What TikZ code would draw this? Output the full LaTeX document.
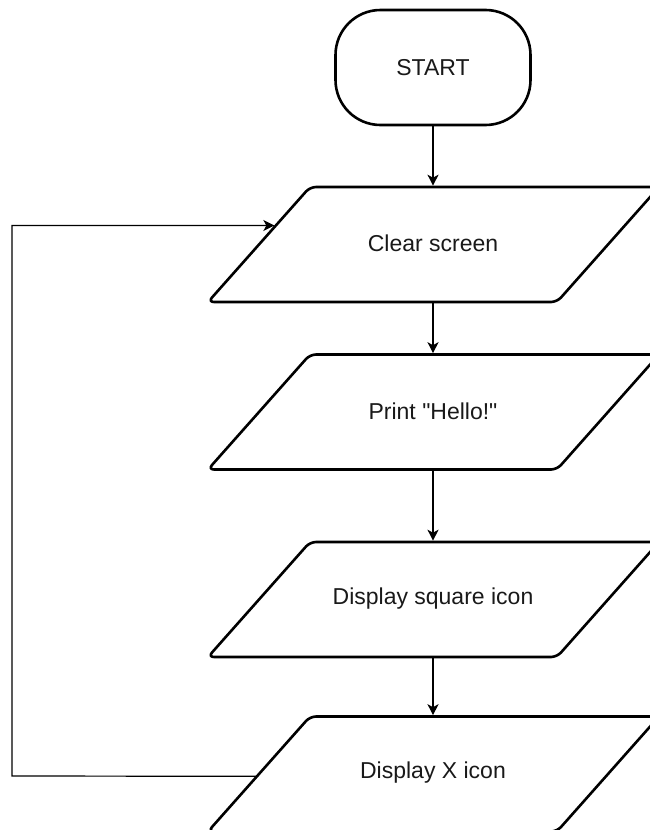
\documentclass[tikz,border=0pt]{standalone}
\usepackage{fontspec}
\setmainfont{Liberation Sans}[Ligatures=TeXOff]
\usetikzlibrary{arrows.meta,calc}
\begin{document}
\begin{tikzpicture}[x=1pt,y=-1pt,
  lbl/.style={font=\fontsize{23}{27}\selectfont, text=black!90},
  startbox/.style={lbl, draw, line width=2.6pt, rectangle, rounded corners=45pt,
    minimum width=195pt, minimum height=115pt, inner sep=0pt},
  ioline/.style={line width=2.6pt, rounded corners=6pt},
  conn/.style={line width=1.2pt, -{Stealth[length=11pt,width=11pt,inset=3pt]}}
]
\useasboundingbox (0,0) rectangle (649,830);
\node[startbox] (start) at (433,67.5) {START};
% parallelogram boxes: text node + outline + named edge points
\foreach \nm/\cy/\tx in {b1/244.5/Clear screen, b2/412/Print "Hello!", b3/599.5/Display square icon, b4/774/Display X icon}{
  \node[lbl] (\nm) at (433,\cy-1) {\tx};
  \draw[ioline] (208,\cy+57.5) -- (310,\cy-57.5) -- (659,\cy-57.5) -- (557,\cy+57.5) -- cycle;
  \coordinate (\nm-top) at (433,\cy-58.8);
  \coordinate (\nm-bot) at (433,\cy+58.8);
  \coordinate (\nm-bl) at (208,\cy+57.5);
  \coordinate (\nm-tl) at (310,\cy-57.5);
}
\draw[conn] (start.south) -- (b1-top);
\draw[conn] (b1-bot) -- (b2-top);
\draw[conn] (b2-bot) -- (b3-top);
\draw[conn] (b3-bot) -- (b4-top);
\coordinate (loopend) at ($(b1-bl)!0.665!(b1-tl)+(-1.5,0)$);
\coordinate (loopstart) at ($(b4-bl)!0.48!(b4-tl)$);
\draw[conn] (loopstart) -- (12,776) |- (loopend);
\end{tikzpicture}
\end{document}
